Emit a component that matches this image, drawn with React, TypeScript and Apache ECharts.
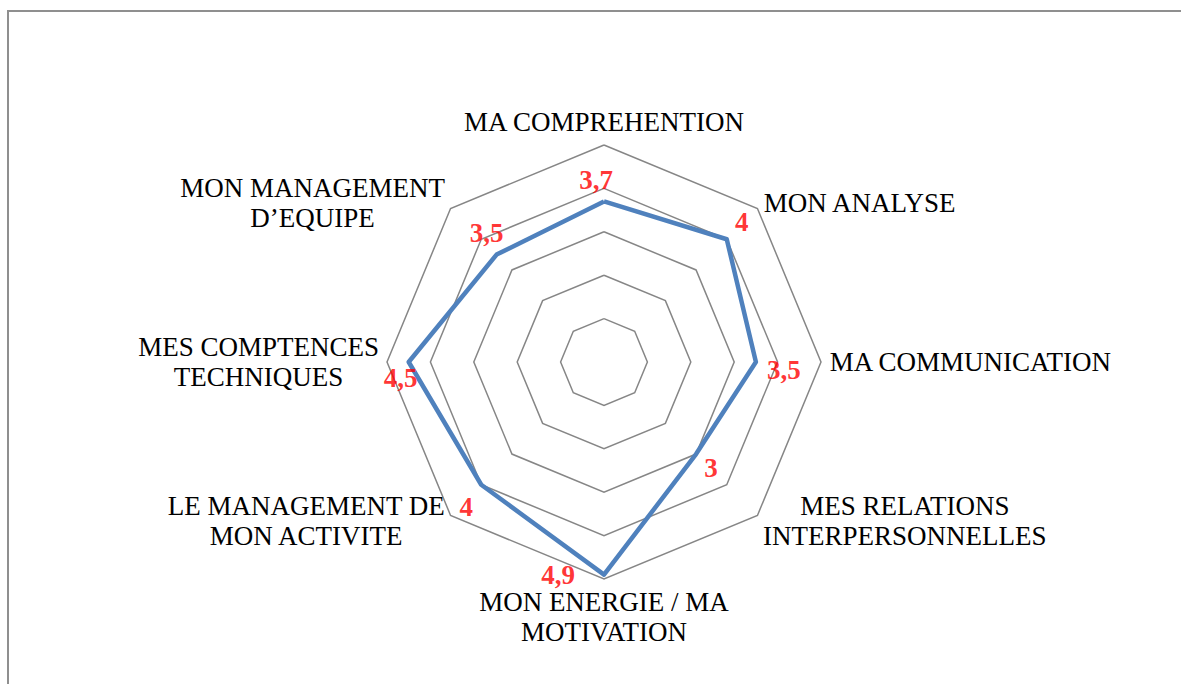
import React, { useEffect, useRef } from "react";
import * as echarts from "echarts";

// Categories listed clockwise starting from the top
const categories: string[] = [
  "MA COMPREHENTION",
  "MON ANALYSE",
  "MA COMMUNICATION",
  "MES RELATIONS\nINTERPERSONNELLES",
  "MON ENERGIE / MA\nMOTIVATION",
  "LE MANAGEMENT DE\nMON ACTIVITE",
  "MES COMPTENCES\nTECHNIQUES",
  "MON MANAGEMENT\nD\u2019EQUIPE",
];
const values: number[] = [3.7, 4, 3.5, 3, 4.9, 4, 4.5, 3.5];
const scaleMax = 5;
const ringCount = 5;

// label offsets (styling only), same order as categories
const labelOffsets: [number, number][] = [
  [-8, -21],
  [15, -17],
  [28, 8],
  [15, 14],
  [-46, 0],
  [-15, 22],
  [-8, 16],
  [-10, -22],
];

const CENTER: [number, number] = [604, 362];
const RADIUS = 217;
const FONT = "Liberation Serif";

export default function App() {
  const ref = useRef<HTMLDivElement>(null);
  useEffect(() => {
    document.body.style.margin = "0";
    if (!ref.current) return;
    const chart = echarts.init(ref.current, undefined, { renderer: "svg" });
    // ECharts radar places indicators counter-clockwise: reorder to keep visual clockwise order
    const order = [0, ...categories.slice(1).map((_, i) => categories.length - 1 - i)];
    const indicator = order.map((i) => ({ name: categories[i], min: 0, max: scaleMax }));
    const radarValues = order.map((i) => values[i]);
    chart.setOption({
      animation: false,
      backgroundColor: "#ffffff",
      textStyle: { fontFamily: FONT },
      radar: {
        center: CENTER,
        radius: RADIUS,
        shape: "polygon",
        splitNumber: ringCount,
        startAngle: 90,
        indicator,
        axisNameGap: 8,
        axisName: {
          color: "#000000",
          fontFamily: FONT,
          fontSize: 27,
          lineHeight: 30,
          formatter: (name: string) =>
            name
              .split("\n")
              .map((l) => `{a|${l}}`)
              .join("\n"),
          rich: {
            a: {
              align: "center",
              color: "#000000",
              fontFamily: FONT,
              fontSize: 27,
              lineHeight: 30,
            },
          },
        },
        axisLine: { show: false },
        axisTick: { show: false },
        axisLabel: { show: false },
        splitArea: { show: false },
        splitLine: { lineStyle: { color: "#868686", width: 1.5 } },
      },
      polar: { center: CENTER, radius: RADIUS },
      angleAxis: {
        type: "category",
        data: categories,
        boundaryGap: false,
        startAngle: 90,
        clockwise: true,
        axisLine: { show: false },
        axisTick: { show: false },
        axisLabel: { show: false },
        splitLine: { show: false },
      },
      radiusAxis: {
        min: 0,
        max: scaleMax,
        axisLine: { show: false },
        axisTick: { show: false },
        axisLabel: { show: false },
        splitLine: { show: false },
      },
      series: [
        {
          type: "radar",
          symbol: "none",
          lineStyle: { color: "#4F81BD", width: 4.5 },
          data: [{ value: radarValues }],
          silent: true,
        },
        {
          type: "scatter",
          coordinateSystem: "polar",
          symbol: "circle",
          symbolSize: 1,
          itemStyle: { color: "rgba(0,0,0,0)" },
          silent: true,
          data: values.map((v, i) => ({ value: [v, i] })),
          label: {
            show: true,
            position: "inside",
            formatter: (p: any) => String(values[p.dataIndex]).replace(".", ","),
            color: "#FF0000",
            fontFamily: FONT,
            fontWeight: "bold",
            fontSize: 27,
          },
          labelLayout: (p: any) => ({
            dx: labelOffsets[p.dataIndex][0],
            dy: labelOffsets[p.dataIndex][1],
            hideOverlap: false,
          }),
        },
      ],
    });
    return () => chart.dispose();
  }, []);
  return (
    <div style={{ position: "relative", width: 1181, height: 684, background: "#fff" }}>
      <div ref={ref} style={{ position: "absolute", left: 0, top: 0, width: 1181, height: 684 }} />
      <div
        style={{
          position: "absolute",
          left: 7,
          top: 10,
          right: 0,
          bottom: 0,
          borderTop: "2px solid #8f8f8f",
          borderLeft: "2px solid #8f8f8f",
          pointerEvents: "none",
        }}
      />
    </div>
  );
}
